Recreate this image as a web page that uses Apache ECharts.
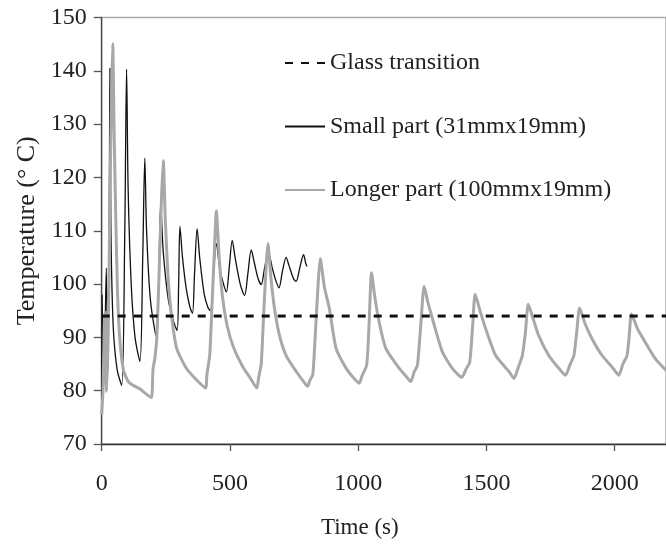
<!DOCTYPE html>
<html>
<head>
<meta charset="utf-8">
<script src="https://cdn.jsdelivr.net/npm/echarts@6/dist/echarts.min.js"></script>
<style>
  html, body { margin: 0; padding: 0; background: #fff; }
  #chart { width: 666px; height: 544px; }
</style>
</head>
<body>
<div id="chart"></div>
<script>
// Glass transition reference line
const glassTime = [0, 2200];
const glassTemp = [94, 94];

// Small part (31mm x 19mm)
const smallTime = [0, 2, 6, 12, 18, 24, 30, 32, 36, 45, 60, 78, 90, 97, 103, 115, 130, 149,
  160, 168, 175, 190, 214, 222, 230, 240, 260, 280, 294, 300, 305, 315, 330, 345, 354,
  362, 372, 382, 400, 415, 424, 436, 447, 460, 475, 486, 497, 509, 520, 540, 557, 570,
  583, 595, 610, 622, 635, 650, 665, 680, 691, 705, 719, 730, 748, 758, 772, 787, 795, 800];
const smallTemp = [76, 98, 80, 88, 103, 84, 120, 140.5, 110, 92, 84, 81, 110, 140.3, 118, 100, 90, 85.5,
  105, 123.6, 110, 97, 90, 100, 115, 106, 97, 93, 91.3, 100, 110.8, 105, 99, 95.5, 94.5,
  102, 110.4, 105, 98, 95.5, 95, 102, 107.6, 103, 100, 98.5, 103, 108.2, 105, 100, 97.9, 102,
  106.4, 104, 101, 99.9, 103, 106, 103, 100.5, 99.3, 102.5, 105, 103.5, 101, 100.5, 103, 105.5, 104, 103.3];

// Longer part (100mm x 19mm)
const longTime = [0, 5, 10, 13, 16, 19, 25, 32, 38, 43, 48, 55, 62, 70, 84, 100, 110, 130, 150, 175, 194,
  200, 207, 215, 225, 233, 240, 248, 258, 270, 292, 330, 370, 405, 410, 421, 430, 440, 447,
  458, 470, 490, 515, 550, 580, 605, 612, 622, 632, 642, 648, 660, 675, 695, 720, 760, 790, 803,
  812, 823, 832, 845, 852, 868, 888, 914, 953, 980, 1004, 1015, 1033, 1042, 1052, 1065, 1082,
  1108, 1160, 1185, 1205, 1218, 1231, 1245, 1257, 1272, 1290, 1328, 1367, 1404, 1420, 1435,
  1446, 1456, 1475, 1497, 1536, 1588, 1607, 1625, 1640, 1652, 1663, 1682, 1704, 1743, 1782,
  1808, 1825, 1841, 1852, 1863, 1885, 1912, 1951, 1989, 2016, 2032, 2048, 2057, 2065, 2090,
  2119, 2158, 2200];
const longTemp = [75.5, 80, 92, 94.7, 86, 79.9, 90, 115, 135, 145.1, 130, 112, 98, 90, 84, 82, 81.4, 80.8, 80.3, 79.3, 78.7,
  84, 86, 90, 104, 116, 123.2, 112, 102, 95, 88, 84.2, 82, 80.5, 83, 86.6, 96, 107, 113.7,
  105, 98, 92, 88, 84.5, 82.3, 80.5, 82.5, 85, 95, 104, 107.6, 101, 95, 90, 86.5, 83.5, 81.5, 80.8,
  82, 83, 90, 101, 104.8, 99.5, 95.3, 87.9, 84.2, 82.5, 81.4, 82.8, 84.8, 92, 102.1, 97.5, 92.8,
  87.9, 84.2, 82.8, 81.7, 83.5, 84.8, 93, 99.6, 96.5, 93.4, 87.3, 84.2, 82.5, 84, 85.4,
  92, 98.1, 95, 91.6, 86.6, 83.6, 82.3, 84.5, 86.6, 91, 96.2, 93.5, 90.3, 86.6, 84.2,
  82.9, 84.8, 86.6, 91, 95.5, 92.5, 89.7, 86.6, 84.5, 82.9, 85, 86.6, 90.5, 94.4, 91.5,
  89.1, 86.0, 83.8];

const zip = (xs, ys) => xs.map((x, i) => [x, ys[i]]);

const font = "Liberation Serif";
const textColor = "#222";

const chart = echarts.init(document.getElementById("chart"));

chart.setOption({
  animation: false,
  grid: {
    left: 101.7,
    top: 17.5,
    width: 565.7,
    height: 432.5,
    show: true,
    borderColor: "#aaa",
    borderWidth: 1.5,
  },
  legend: {
    data: ["Glass transition", "Small part (31mmx19mm)", "Longer part (100mmx19mm)"],
    orient: "vertical",
    left: 284,
    top: 51,
    padding: 0,
    itemWidth: 40,
    itemHeight: 14,
    itemGap: 39.5,
    itemStyle: { opacity: 0 }, // hide the marker dot, keep the line
    textStyle: { fontFamily: font, fontSize: 24, lineHeight: 24, color: textColor },
  },
  xAxis: {
    type: "value",
    min: 0,
    max: 2200,
    interval: 500,
    name: "Time (s)",
    nameLocation: "middle",
    nameGap: 72,
    nameTextStyle: { fontFamily: font, fontSize: 23, color: textColor, padding: [0, 48, 0, 0] },
    axisLine: { lineStyle: { color: "#333", width: 1.3 } },
    axisTick: { inside: false, length: 7, lineStyle: { color: "#555", width: 1.3 } },
    axisLabel: {
      margin: 28,
      fontFamily: font,
      fontSize: 24,
      color: textColor,
      showMaxLabel: false,
      formatter: (v) => String(v),
    },
    splitLine: { show: false },
  },
  yAxis: {
    type: "value",
    min: 70,
    max: 150,
    interval: 10,
    name: "Temperature (° C)",
    nameLocation: "middle",
    nameGap: 62,
    nameTextStyle: { fontFamily: font, fontSize: 26, color: textColor },
    axisLine: { show: true, lineStyle: { color: "#444", width: 1.3 } },
    axisTick: { show: true, inside: false, length: 8, lineStyle: { color: "#555", width: 1.3 } },
    axisLabel: { margin: 15, fontFamily: font, fontSize: 24, color: textColor },
    splitLine: { show: false },
  },
  series: [
    {
      name: "Small part (31mmx19mm)",
      type: "line",
      data: zip(smallTime, smallTemp),
      symbol: "none",
      smooth: 0.3,
      lineStyle: { color: "#111", width: 1.3 },
      itemStyle: { color: "#111" },
      z: 2,
    },
    {
      name: "Longer part (100mmx19mm)",
      type: "line",
      data: zip(longTime, longTemp),
      symbol: "none",
      smooth: 0.2,
      lineStyle: { color: "#a8a8a8", width: 3 },
      itemStyle: { color: "#a8a8a8" },
      z: 3,
    },
    {
      name: "Glass transition",
      type: "line",
      data: zip(glassTime, glassTemp),
      symbol: "none",
      lineStyle: { color: "#111", width: 3, type: [8, 8] },
      itemStyle: { color: "#111" },
      z: 4,
    },
  ],
});
</script>
</body>
</html>
